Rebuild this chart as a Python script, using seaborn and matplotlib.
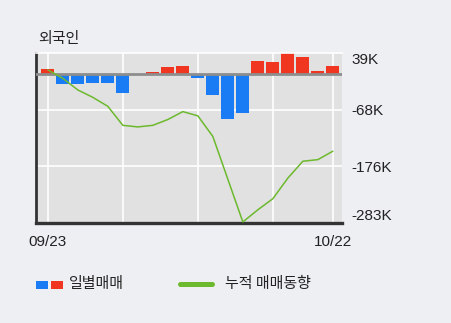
import numpy as np
import pandas as pd
import matplotlib
matplotlib.use("Agg")
import matplotlib.pyplot as plt
import seaborn as sns
from matplotlib.patches import Rectangle
from matplotlib.lines import Line2D

# Foreign investors: daily net trading and cumulative trend (thousand shares)
daily_net = [9, -20, -20, -18, -18, -37, -3, 3, 13, 15,
             -8, -40, -86, -75, 24, 22, 39, 31, 5, 14]
cumulative = [7, -9, -31, -45, -62, -98, -101, -98, -87, -72,
              -80, -119, -200, -281, -258, -237, -198, -166, -163, -147]
date_labels = ["09/23", "10/22"]
ytick_values = [39, -68.33, -175.67, -283]
ytick_labels = ["39K", "-68K", "-176K", "-283K"]

BLUE = "#1a7cf5"
RED = "#f03520"
GREEN = "#6cb92e"
KFONT = ["Noto Sans CJK KR", "DejaVu Sans"]

sns.set_theme(style="white")
plt.rcParams["font.family"] = ["Liberation Sans", "Noto Sans CJK KR"]

df = pd.DataFrame({"day": range(len(daily_net)), "net": daily_net, "cum": cumulative})
df["side"] = np.where(df["net"] >= 0, "buy", "sell")

W, H = 451, 323
fig = plt.figure(figsize=(W / 100, H / 100), dpi=100, facecolor="#eeeff3")
ax = fig.add_axes([36 / W, 1 - 223 / H, 306 / W, 170 / H])
ax.set_facecolor("#e1e1e1")

# grid
for gx in [0, 5, 10, 15, 19]:
    ax.axvline(gx, color="white", lw=1.2, zorder=1)
for gy in ytick_values[1:3]:
    ax.axhline(gy, color="white", lw=1.2, zorder=1)

sns.barplot(data=df, x="day", y="net", hue="side",
            palette={"buy": RED, "sell": BLUE}, width=0.867, dodge=False,
            saturation=1, legend=False, linewidth=0, ax=ax, zorder=2)
ax.axhline(0, color="#8d8d8d", lw=2.0, zorder=3)
sns.lineplot(data=df, x="day", y="cum", color=GREEN, lw=1.1, ax=ax, zorder=4)

ax.set_xlim(-0.787, 19.61)
ax.set_ylim(-283, 39)
ax.set_xlabel("")
ax.set_ylabel("")

ax.spines["right"].set_visible(False)
ax.spines["top"].set_color("white")
ax.spines["top"].set_linewidth(1.2)
ax.spines["left"].set_color("#333333")
ax.spines["left"].set_linewidth(2)
ax.spines["bottom"].set_color("#333333")
ax.spines["bottom"].set_linewidth(2.4)

ax.yaxis.tick_right()
ax.set_yticks(ytick_values, ytick_labels)
ax.tick_params(axis="y", length=0, pad=7, labelsize=11, labelcolor="#222222")
ylabels = ax.get_yticklabels()
ylabels[0].set_va("top")
ylabels[-1].set_va("bottom")

ax.set_xticks([0, len(daily_net) - 1], date_labels)
ax.tick_params(axis="x", length=0, pad=9, labelsize=11, labelcolor="#222222")

fig.text(38 / W, 1 - 38.5 / H, "외국인", ha="left", va="center",
         fontsize=10.8, family=KFONT, color="#222222")

# legend
fig.add_artist(Rectangle((36 / W, 1 - 289 / H), 12 / W, 8.5 / H,
                         transform=fig.transFigure, color=BLUE, lw=0))
fig.add_artist(Rectangle((51 / W, 1 - 289 / H), 12 / W, 8.5 / H,
                         transform=fig.transFigure, color=RED, lw=0))
fig.text(69 / W, 1 - 284 / H, "일별매매", ha="left", va="center",
         fontsize=10.8, family=KFONT, color="#222222")
fig.add_artist(Line2D([180 / W, 212 / W], [1 - 283.5 / H, 1 - 283.5 / H],
                      transform=fig.transFigure, color=GREEN, lw=3.6))
fig.text(225 / W, 1 - 284 / H, "누적 매매동향", ha="left", va="center",
         fontsize=10.8, family=KFONT, color="#222222")

fig.savefig("out.png", dpi=100, facecolor=fig.get_facecolor())
